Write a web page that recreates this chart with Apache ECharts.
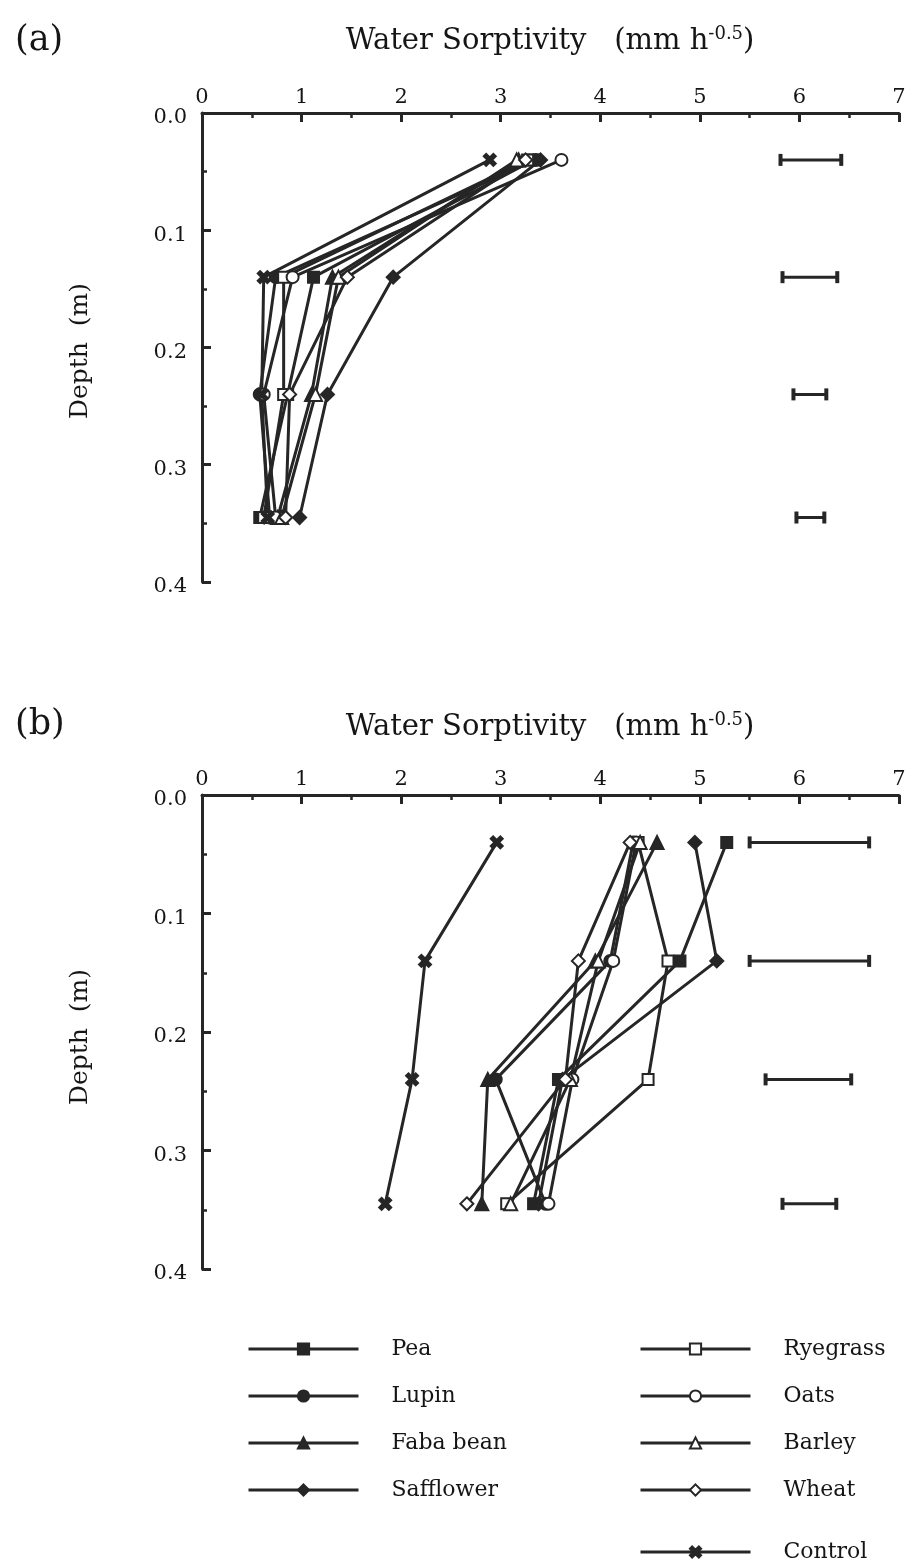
<!DOCTYPE html>
<html>
<head>
<meta charset="utf-8">
<script src="https://cdn.jsdelivr.net/npm/echarts@6/dist/echarts.min.js"></script>
<style>html,body{margin:0;padding:0;background:#fff}#c{width:914px;height:1563px}</style>
</head>
<body>
<div id="c"></div>
<script>
// ---- data ----
const depths = [0.04, 0.14, 0.24, 0.345];
const xTicks = [0, 1, 2, 3, 4, 5, 6, 7];
const yTicks = [0.0, 0.1, 0.2, 0.3, 0.4];
const seriesNames = ['Pea', 'Lupin', 'Faba bean', 'Safflower', 'Ryegrass', 'Oats', 'Barley', 'Wheat', 'Control'];

// panel (a)
const a_Pea       = [3.33, 1.12, 0.86, 0.58];
const a_Lupin     = [3.35, 0.74, 0.58, 0.68];
const a_Faba      = [3.18, 1.31, 1.10, 0.76];
const a_Safflower = [3.40, 1.92, 1.26, 0.98];
const a_Ryegrass  = [3.27, 0.82, 0.82, 0.62];
const a_Oats      = [3.61, 0.91, 0.62, 0.74];
const a_Barley    = [3.16, 1.37, 1.14, 0.80];
const a_Wheat     = [3.25, 1.46, 0.88, 0.84];
const a_Control   = [2.89, 0.62, 0.60, 0.66];
const a_errLow    = [5.81, 5.83, 5.94, 5.97];
const a_errHigh   = [6.42, 6.38, 6.27, 6.25];

// panel (b)
const b_Pea       = [5.27, 4.80, 3.58, 3.33];
const b_Lupin     = [4.33, 4.10, 2.95, 3.45];
const b_Faba      = [4.57, 3.95, 2.87, 2.81];
const b_Safflower = [4.95, 5.17, 3.62, 3.38];
const b_Ryegrass  = [4.38, 4.68, 4.48, 3.06];
const b_Oats      = [4.36, 4.13, 3.72, 3.48];
const b_Barley    = [4.40, 3.98, 3.70, 3.10];
const b_Wheat     = [4.30, 3.78, 3.65, 2.66];
const b_Control   = [2.96, 2.24, 2.11, 1.84];
const b_errLow    = [5.50, 5.50, 5.66, 5.83];
const b_errHigh   = [6.70, 6.70, 6.52, 6.37];

const panelA = [a_Pea, a_Lupin, a_Faba, a_Safflower, a_Ryegrass, a_Oats, a_Barley, a_Wheat, a_Control];
const panelB = [b_Pea, b_Lupin, b_Faba, b_Safflower, b_Ryegrass, b_Oats, b_Barley, b_Wheat, b_Control];

// ---- styles ----
const INK = '#262626';
const TXT = '#151515';
const FONT = '"DejaVu Serif", "Liberation Serif", serif';
const xMark = 'path://M0,2 L2,0 L5,3 L8,0 L10,2 L7,5 L10,8 L8,10 L5,7 L2,10 L0,8 L3,5 Z';
const symbols = ['rect', 'circle', 'triangle', 'diamond', 'emptyRect', 'emptyCircle', 'emptyTriangle', 'emptyDiamond', xMark];
const sizes = [11, 12, 13, 13, 11, 12, 13, 13, 12];

function xAxisCfg(gi) {
  return {
    gridIndex: gi, type: 'value', position: 'top', min: 0, max: 7, interval: 1,
    axisLine: {show: true, onZero: false, lineStyle: {color: INK, width: 3}},
    axisTick: {show: true, inside: true, length: 9, lineStyle: {color: INK, width: 3}},
    minorTick: {show: true, splitNumber: 2, length: 5, lineStyle: {color: INK, width: 2.5}},
    splitLine: {show: false},
    axisLabel: {color: TXT, fontFamily: FONT, fontSize: 21, margin: 5,
      formatter: v => xTicks.includes(v) ? String(v) : ''}
  };
}
function yAxisCfg(gi) {
  return {
    gridIndex: gi, type: 'value', inverse: true, min: 0, max: 0.4, interval: 0.1,
    axisLine: {show: true, onZero: false, lineStyle: {color: INK, width: 3}},
    axisTick: {show: true, inside: true, length: 9, lineStyle: {color: INK, width: 3}},
    minorTick: {show: true, splitNumber: 2, length: 5, lineStyle: {color: INK, width: 2.5}},
    splitLine: {show: false},
    axisLabel: {color: TXT, fontFamily: FONT, fontSize: 21, margin: 15,
      verticalAlign: 'top', lineHeight: 10,
      formatter: v => v.toFixed(1)}
  };
}

const series = [];
function addPanel(data, gi, lo, hi) {
  data.forEach((vals, i) => {
    series.push({
      name: seriesNames[i], type: 'line', xAxisIndex: gi, yAxisIndex: gi,
      data: vals.map((v, k) => [v, depths[k]]),
      symbol: symbols[i], symbolSize: sizes[i], showAllSymbol: true,
      lineStyle: {color: INK, width: 3},
      itemStyle: {color: INK, borderColor: INK, borderWidth: 2},
      emphasis: {disabled: true}, animation: false, z: 3
    });
  });
  series.push({
    type: 'custom', xAxisIndex: gi, yAxisIndex: gi, animation: false, silent: true,
    data: lo.map((l, k) => [l, depths[k], hi[k]]),
    encode: {x: [0, 2], y: 1},
    renderItem: (params, api) => {
      const p1 = api.coord([api.value(0), api.value(1)]);
      const p2 = api.coord([api.value(2), api.value(1)]);
      const c = 6;
      const st = {stroke: INK, lineWidth: 3};
      return {type: 'group', children: [
        {type: 'line', shape: {x1: p1[0], y1: p1[1], x2: p2[0], y2: p2[1]}, style: st},
        {type: 'line', shape: {x1: p1[0], y1: p1[1] - c, x2: p1[0], y2: p1[1] + c}, style: {stroke: INK, lineWidth: 4}},
        {type: 'line', shape: {x1: p2[0], y1: p2[1] - c, x2: p2[0], y2: p2[1] + c}, style: {stroke: INK, lineWidth: 4}}
      ]};
    }
  });
}
addPanel(panelA, 0, a_errLow, a_errHigh);
addPanel(panelB, 1, b_errLow, b_errHigh);

const titleRich = {
  t: {fontFamily: FONT, fontSize: 29, fontWeight: 'normal', color: TXT},
  s: {fontFamily: FONT, fontSize: 18, fontWeight: 'normal', color: TXT, verticalAlign: 'top', padding: [0, 0, 14, 0]}
};
const titleText = '{t|Water Sorptivity   (mm h}{s|-0.5}{t|)}';

const legendBase = {
  orient: 'vertical', itemWidth: 110, itemHeight: 14, itemGap: 25,
  lineStyle: {width: 3, color: INK},
  textStyle: {fontFamily: FONT, fontSize: 22, color: TXT, padding: [0, 0, 0, 28]},
  selectedMode: false
};

const option = {
  backgroundColor: '#fff',
  animation: false,
  title: [
    {text: '(a)', left: 10, top: 18, textStyle: {fontFamily: FONT, fontSize: 35, fontWeight: 'normal', color: TXT}},
    {text: titleText, left: 545, textAlign: 'center', top: 20, textStyle: {fontWeight: 'normal', rich: titleRich}},
    {text: '(b)', left: 10, top: 702, textStyle: {fontFamily: FONT, fontSize: 35, fontWeight: 'normal', color: TXT}},
    {text: titleText, left: 545, textAlign: 'center', top: 706, textStyle: {fontWeight: 'normal', rich: titleRich}}
  ],
  grid: [
    {left: 202, top: 113, width: 697, height: 469},
    {left: 202, top: 795, width: 697, height: 474}
  ],
  xAxis: [xAxisCfg(0), xAxisCfg(1)],
  yAxis: [yAxisCfg(0), yAxisCfg(1)],
  graphic: [
    {type: 'text', x: 80, y: 351, rotation: Math.PI / 2,
      style: {text: 'Depth  (m)', fontFamily: FONT, fontSize: 25, fill: TXT, align: 'center', verticalAlign: 'middle'}},
    {type: 'text', x: 80, y: 1037, rotation: Math.PI / 2,
      style: {text: 'Depth  (m)', fontFamily: FONT, fontSize: 25, fill: TXT, align: 'center', verticalAlign: 'middle'}}
  ],
  legend: [
    Object.assign({}, legendBase, {left: 242, top: 1333, data: ['Pea', 'Lupin', 'Faba bean', 'Safflower']}),
    Object.assign({}, legendBase, {left: 634, top: 1333, data: ['Ryegrass', 'Oats', 'Barley', 'Wheat']}),
    Object.assign({}, legendBase, {left: 634, top: 1536, data: ['Control']})
  ],
  series: series
};

const chart = echarts.init(document.getElementById('c'), null, {renderer: 'canvas'});
chart.setOption(option);
</script>
</body>
</html>
